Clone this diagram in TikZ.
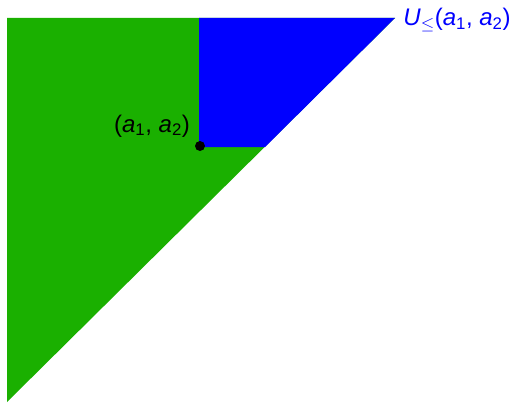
\documentclass[tikz,border=0pt]{standalone}
\usepackage{fontspec}
\setmainfont{Liberation Sans}
\definecolor{lowgreen}{RGB}{26,176,0}
\begin{document}
\begin{tikzpicture}[x=1pt, y=-1pt, thick, region/.style = {draw=none}, lbl/.style = {inner sep=0pt, font=\fontsize{24}{28}\selectfont}, pt/.style = {circle, fill=black, inner sep=0pt, minimum size=10pt}]
            \useasboundingbox (0,0) rectangle (519,404);
            \fill[region, lowgreen] (7,18) -- (395,18) -- (7,402) -- cycle;
            \fill[region, blue] (199,18) -- (395,18) -- (265,147) -- (199,147) -- cycle;
            \node[pt] (a) at (200,146) {};
            \node[lbl, anchor=center] (alab) at (152,126) {(\textit{a}\textsubscript{1}, \textit{a}\textsubscript{2})};
            \node[lbl, blue, anchor=center] (ulab) at (457,20) {\textit{U}$_{\le}$(\textit{a}\textsubscript{1}, \textit{a}\textsubscript{2})};
        \end{tikzpicture}
\end{document}
